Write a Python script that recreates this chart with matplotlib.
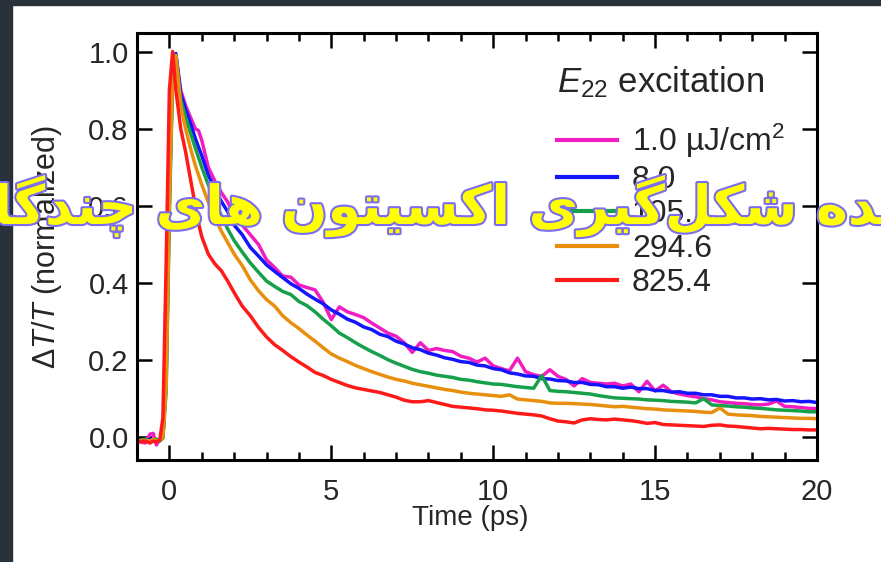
import matplotlib
matplotlib.use("Agg")
import matplotlib.pyplot as plt
import matplotlib.patheffects as pe
from matplotlib.patches import Rectangle
from matplotlib.ticker import MultipleLocator, FormatStrFormatter

plt.rcParams["font.family"] = ["Liberation Sans", "DejaVu Sans"]
plt.rcParams["mathtext.fontset"] = "custom"
plt.rcParams["mathtext.rm"] = "Liberation Sans"
plt.rcParams["mathtext.it"] = "Liberation Sans:italic"

# time axis (ps): fine steps around the rise, then 0.25 ps
time_ps = ([-1.0, -0.75, -0.6, -0.5, -0.4, -0.3, -0.2, -0.1, 0.0, 0.1, 0.2,
            0.35, 0.5, 0.65, 0.8, 0.9, 1.0, 1.2, 1.4, 1.6, 1.8, 2.0]
           + [2.25 + 0.25 * i for i in range(72)])

fluence_labels = ["1.0 µJ/cm$^2$", "8.0", "105.1", "294.6", "825.4"]
line_colors = ["#f01ec0", "#1414ff", "#17a04a", "#e8900e", "#ff1a1a"]

dT_1_0 = ([-0.01, -0.015, 0.008, 0.01, -0.02, -0.005, 0.0, 0.18, 0.68, 0.96, 0.99,
           0.90, 0.86, 0.83, 0.80, 0.795, 0.77, 0.70, 0.665, 0.635, 0.61, 0.575]
          + [0.55, 0.525, 0.50, 0.46, 0.44, 0.418, 0.415, 0.395]
          + [0.388, 0.382, 0.35, 0.305, 0.338, 0.325, 0.318, 0.31]
          + [0.296, 0.283, 0.27, 0.262, 0.245, 0.22, 0.245, 0.225]
          + [0.23, 0.225, 0.222, 0.21, 0.205, 0.195, 0.205, 0.185]
          + [0.178, 0.172, 0.205, 0.17, 0.162, 0.158, 0.175, 0.158]
          + [0.15, 0.133, 0.152, 0.142, 0.14, 0.138, 0.14, 0.133]
          + [0.138, 0.118, 0.145, 0.12, 0.135, 0.118, 0.112, 0.108]
          + [0.105, 0.1, 0.097, 0.092, 0.09, 0.088, 0.087, 0.085]
          + [0.084, 0.086, 0.094, 0.08, 0.079, 0.077, 0.075, 0.074])

dT_8_0 = ([-0.008, -0.01, -0.005, -0.008, -0.01, -0.006, 0.0, 0.15, 0.62, 0.95, 0.995,
           0.89, 0.85, 0.814, 0.775, 0.752, 0.73, 0.68, 0.645, 0.612, 0.585, 0.55]
          + [0.525, 0.492, 0.47, 0.447, 0.43, 0.414, 0.398, 0.386]
          + [0.371, 0.358, 0.346, 0.33, 0.319, 0.306, 0.298, 0.286]
          + [0.279, 0.267, 0.261, 0.249, 0.242, 0.232, 0.227, 0.218]
          + [0.213, 0.206, 0.202, 0.196, 0.194, 0.187, 0.185, 0.178]
          + [0.175, 0.167, 0.164, 0.159, 0.158, 0.152, 0.151, 0.147]
          + [0.146, 0.142, 0.142, 0.137, 0.136, 0.131, 0.131, 0.127]
          + [0.13, 0.126, 0.126, 0.121, 0.121, 0.117, 0.118, 0.114]
          + [0.114, 0.11, 0.11, 0.106, 0.106, 0.102, 0.102, 0.099]
          + [0.1, 0.097, 0.098, 0.094, 0.095, 0.092, 0.093, 0.09])

dT_105_1 = ([-0.01, -0.005, -0.01, -0.008, -0.005, -0.01, -0.002, 0.12, 0.58, 0.93, 0.99,
             0.875, 0.83, 0.79, 0.75, 0.725, 0.70, 0.655, 0.615, 0.575, 0.54, 0.51]
            + [0.48, 0.452, 0.428, 0.405, 0.391, 0.378, 0.37, 0.352]
            + [0.341, 0.325, 0.306, 0.289, 0.27, 0.258, 0.245, 0.233]
            + [0.222, 0.212, 0.201, 0.192, 0.184, 0.176, 0.17, 0.166]
            + [0.161, 0.158, 0.155, 0.15, 0.148, 0.144, 0.141, 0.138]
            + [0.137, 0.134, 0.131, 0.129, 0.127, 0.16, 0.121, 0.119]
            + [0.118, 0.116, 0.114, 0.112, 0.108, 0.105, 0.102, 0.101]
            + [0.1, 0.099, 0.097, 0.096, 0.095, 0.093, 0.092, 0.091]
            + [0.089, 0.1, 0.084, 0.082, 0.081, 0.079, 0.078, 0.076]
            + [0.075, 0.073, 0.071, 0.07, 0.069, 0.068, 0.066, 0.066])

dT_294_6 = ([-0.01, -0.008, -0.01, -0.005, -0.01, -0.008, 0.0, 0.13, 0.6, 0.94, 0.99,
             0.86, 0.80, 0.75, 0.705, 0.68, 0.655, 0.61, 0.57, 0.535, 0.505, 0.475]
            + [0.445, 0.408, 0.38, 0.357, 0.34, 0.315, 0.297, 0.282]
            + [0.265, 0.249, 0.232, 0.216, 0.205, 0.196, 0.186, 0.178]
            + [0.17, 0.163, 0.156, 0.15, 0.146, 0.14, 0.136, 0.132]
            + [0.128, 0.124, 0.121, 0.117, 0.114, 0.112, 0.11, 0.108]
            + [0.106, 0.11, 0.099, 0.097, 0.095, 0.093, 0.089, 0.088]
            + [0.088, 0.087, 0.086, 0.085, 0.083, 0.081, 0.079, 0.08]
            + [0.078, 0.076, 0.074, 0.073, 0.071, 0.07, 0.069, 0.068]
            + [0.067, 0.065, 0.064, 0.076, 0.06, 0.058, 0.057, 0.056]
            + [0.054, 0.053, 0.052, 0.051, 0.05, 0.049, 0.049, 0.048])

dT_825_4 = ([-0.012, -0.01, -0.015, -0.01, -0.012, -0.008, 0.05, 0.45, 0.9, 1.0, 0.9,
             0.80, 0.74, 0.67, 0.60, 0.555, 0.52, 0.475, 0.45, 0.432, 0.405, 0.375]
            + [0.34, 0.315, 0.285, 0.26, 0.24, 0.225, 0.209, 0.195]
            + [0.182, 0.168, 0.16, 0.15, 0.142, 0.134, 0.128, 0.124]
            + [0.12, 0.116, 0.11, 0.104, 0.096, 0.092, 0.092, 0.095]
            + [0.09, 0.085, 0.08, 0.078, 0.076, 0.074, 0.071, 0.07]
            + [0.068, 0.065, 0.062, 0.06, 0.058, 0.055, 0.048, 0.042]
            + [0.04, 0.037, 0.045, 0.048, 0.046, 0.045, 0.047, 0.045]
            + [0.043, 0.04, 0.036, 0.038, 0.033, 0.032, 0.031, 0.03]
            + [0.029, 0.028, 0.031, 0.032, 0.029, 0.028, 0.026, 0.024]
            + [0.022, 0.023, 0.022, 0.021, 0.02, 0.02, 0.019, 0.019])

traces = [dT_1_0, dT_8_0, dT_105_1, dT_294_6, dT_825_4]

banner_text = "پدیده شکل\u200cگیری اکسیتون های چندگانه"

# presentation forms: isolated, final, initial, medial
AR_FORMS = {
    "ا": ("\uFE8D", "\uFE8E", None, None),
    "د": ("\uFEA9", "\uFEAA", None, None),
    "ر": ("\uFEAD", "\uFEAE", None, None),
    "و": ("\uFEED", "\uFEEE", None, None),
    "پ": ("\uFB56", "\uFB57", "\uFB58", "\uFB59"),
    "ی": ("\uFBFC", "\uFBFD", "\uFBFE", "\uFBFF"),
    "ه": ("\uFEE9", "\uFEEA", "\uFEEB", "\uFEEC"),
    "ش": ("\uFEB5", "\uFEB6", "\uFEB7", "\uFEB8"),
    "ک": ("\uFB8E", "\uFB8F", "\uFB90", "\uFB91"),
    "ل": ("\uFEDD", "\uFEDE", "\uFEDF", "\uFEE0"),
    "گ": ("\uFB92", "\uFB93", "\uFB94", "\uFB95"),
    "س": ("\uFEB1", "\uFEB2", "\uFEB3", "\uFEB4"),
    "ت": ("\uFE95", "\uFE96", "\uFE97", "\uFE98"),
    "ن": ("\uFEE5", "\uFEE6", "\uFEE7", "\uFEE8"),
    "چ": ("\uFB7A", "\uFB7B", "\uFB7C", "\uFB7D"),
}


def shape_rtl(s):
    # join letters and flip to visual order, since matplotlib does no shaping
    out = []
    for i, ch in enumerate(s):
        if ch == "\u200c":
            continue
        forms = AR_FORMS.get(ch)
        if forms is None:
            out.append(ch)
            continue
        prev = AR_FORMS.get(s[i - 1]) if i > 0 else None
        nxt = AR_FORMS.get(s[i + 1]) if i + 1 < len(s) else None
        join_prev = prev is not None and prev[2] is not None
        join_next = nxt is not None and forms[2] is not None
        if join_prev and join_next:
            out.append(forms[3])
        elif join_prev:
            out.append(forms[1])
        elif join_next:
            out.append(forms[2])
        else:
            out.append(forms[0])
    return "".join(reversed(out))


W, H = 881, 562
fig = plt.figure(figsize=(W / 100, H / 100), dpi=100, facecolor="white")
ax = fig.add_axes([137 / W, 1 - 460 / H, 680 / W, 427 / H])

for y, c, lab in zip(traces, line_colors, fluence_labels):
    ax.plot(time_ps, y, color=c, lw=2.5, label=lab)

ax.set_xlim(-1, 20)
ax.set_ylim(-0.059, 1.048)
ax.xaxis.set_major_locator(MultipleLocator(5))
ax.xaxis.set_minor_locator(MultipleLocator(1))
ax.yaxis.set_major_locator(MultipleLocator(0.2))
ax.yaxis.set_major_formatter(FormatStrFormatter("%.1f"))
ax.tick_params(which="both", direction="in", top=True, right=True,
               width=1.8, colors="black", labelcolor="#262626")
ax.tick_params(which="major", length=11, labelsize=21)
ax.tick_params(which="minor", length=6)
ax.tick_params(axis="x", pad=13)
ax.tick_params(axis="y", pad=6)
for sp in ax.spines.values():
    sp.set_linewidth(2.2)

ax.set_xlabel("Time (ps)", fontsize=20, color="#262626")
ax.xaxis.set_label_coords((470 - 137) / 680, (460 - 505) / 427)
ax.set_ylabel("Δ$T$/$T$ (normalized)", fontsize=22, color="#262626")
ax.yaxis.set_label_coords((64 - 137) / 680, 0.5)

leg = ax.legend(loc="upper left", bbox_to_anchor=(557 / W, 1 - 122 / H),
                bbox_transform=fig.transFigure, frameon=False, fontsize=23,
                handlelength=1.88, handletextpad=0.47, labelspacing=0.14,
                borderpad=0, borderaxespad=0)
for t in leg.get_texts():
    t.set_color("#262626")
for ln in leg.get_lines():
    ln.set_linewidth(3)
fig.text(557 / W, 1 - 82 / H, "$E_{22}$ excitation", fontsize=25,
         color="#262626", ha="left", va="center")

# dark page border along the top and left edges
fig.add_artist(Rectangle((0, 1 - 5 / H), 1, 5 / H, transform=fig.transFigure,
                         color="#29313a", zorder=5))
fig.add_artist(Rectangle((0, 0), 12 / W, 1, transform=fig.transFigure,
                         color="#29313a", zorder=5))

# banner: size it so the visible words run from the y axis to x = 797 px
visual = shape_rtl(banner_text)
f0 = 40
probe = fig.text(0, 0, visual, family="DejaVu Sans", fontsize=f0, fontweight="bold")
renderer = fig.canvas.get_renderer()


def width_of(s):
    probe.set_text(s)
    return probe.get_window_extent(renderer).width


w_left = width_of(visual[:7])
w_right = width_of(visual[:27])
probe.remove()
fs = f0 * (797 - 137) / (w_right - w_left)
x0 = 137 - w_left * fs / f0

fig.text(x0 / W, 1 - 224 / H, visual, family="DejaVu Sans",
         fontsize=fs, fontweight="bold", color="#ffff00", ha="left",
         va="baseline", zorder=10,
         path_effects=[pe.withStroke(linewidth=3, foreground="#7b6cf0")])

fig.savefig("out.png", dpi=100)
